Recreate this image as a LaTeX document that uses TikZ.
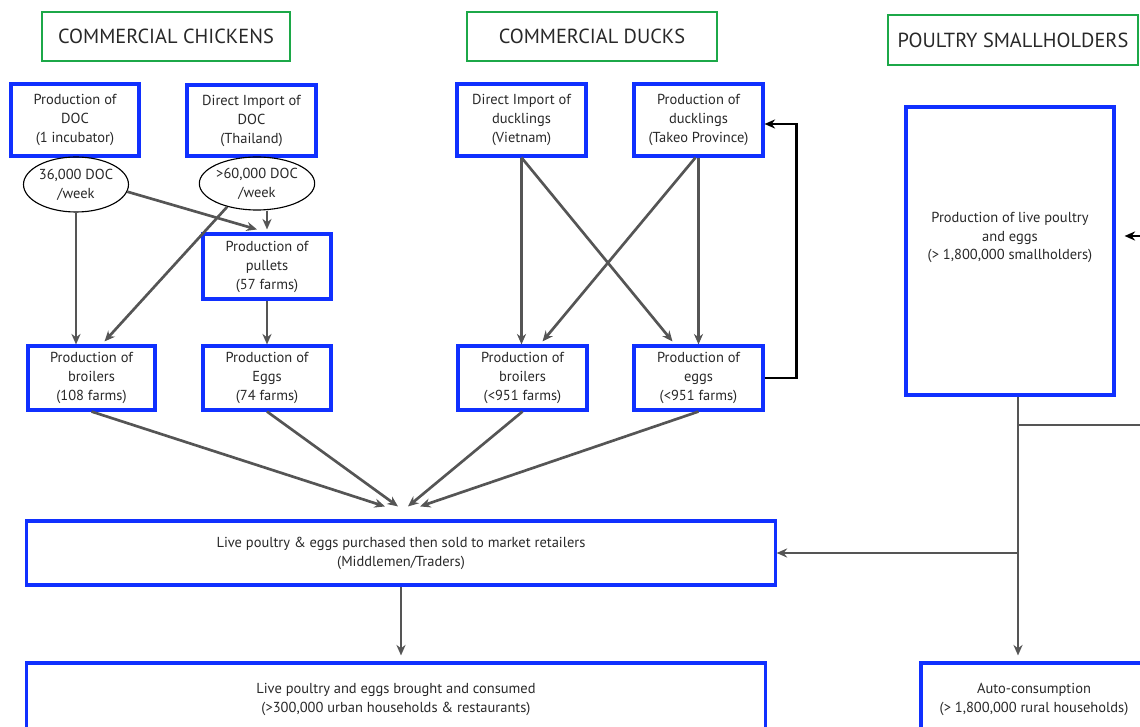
\documentclass[tikz,border=0pt]{standalone}
\usepackage{fontspec}
\setmainfont{PT Sans}
\usetikzlibrary{shapes.geometric,arrows.meta,calc}

\definecolor{boxblue}{RGB}{16,48,255}
\definecolor{hdrgreen}{RGB}{28,168,72}
\definecolor{linegray}{RGB}{85,85,85}
\definecolor{txtgray}{RGB}{40,40,40}

\tikzset{
  hdr/.style={draw=hdrgreen, line width=2pt, text=txtgray, inner sep=0pt,
    font=\fontsize{14.5}{17}\selectfont},
  blk/.style={draw=boxblue, line width=2.2pt, text=txtgray, align=center, inner sep=0pt,
    font=\fontsize{10.3}{13.5}\selectfont},
  ell/.style={ellipse, draw=black, line width=0.8pt, text=txtgray, align=center, inner sep=0pt,
    font=\fontsize{10.3}{13.5}\selectfont},
  flow/.style={draw=linegray, line width=1.9pt, -{Stealth[length=7.5pt,width=6.5pt]}},
  loopback/.style={draw=black, line width=1.9pt, -{Stealth[length=7.5pt,width=6.5pt]}},
}

\begin{document}
\begin{tikzpicture}[x=0.025cm, y=-0.025cm]
  \clip (0,0) rectangle (1140,727);

  % headers
  \node[hdr, minimum width=6.2cm, minimum height=1.225cm] (chk) at (166,36.5) {COMMERCIAL CHICKENS};
  \node[hdr, minimum width=6.25cm, minimum height=1.225cm] (dck) at (592,36.5) {COMMERCIAL DUCKS};
  \node[hdr, minimum width=6.25cm, minimum height=1.25cm] (sml) at (1013,40) {POULTRY SMALLHOLDERS};

  % chickens
  \node[blk, minimum width=3.2cm, minimum height=1.8cm] (docp) at (75,120) {Production of\\DOC\\(1 incubator)};
  \node[blk, minimum width=3.225cm, minimum height=1.775cm] (doci) at (251.5,120.5) {Direct Import of\\DOC\\(Thailand)};
  \node[ell, minimum width=2.425cm, minimum height=1.375cm] (e1) at (76,184.5) {36,000 DOC\\/week};
  \node[ell, minimum width=2.4cm, minimum height=1.325cm] (e2) at (257,183.5) {>60,000 DOC\\/week};
  \node[blk, minimum width=3.2cm, minimum height=1.625cm] (pul) at (267,266.5) {Production of\\pullets\\(57 farms)};
  \node[blk, minimum width=3.175cm, minimum height=1.6cm] (cbr) at (91.5,378) {Production of\\broilers\\(108 farms)};
  \node[blk, minimum width=3.2cm, minimum height=1.6cm] (cegg) at (267,378) {Production of\\Eggs\\(74 farms)};

  % ducks
  \node[blk, minimum width=3.225cm, minimum height=1.8cm] (dimp) at (521.5,120) {Direct Import of\\ducklings\\(Vietnam)};
  \node[blk, minimum width=3.225cm, minimum height=1.8cm] (dlg) at (698.5,120) {Production of\\ducklings\\(Takeo Province)};
  \node[blk, minimum width=3.225cm, minimum height=1.6cm] (dbr) at (522.5,378) {Production of\\broilers\\(<951 farms)};
  \node[blk, minimum width=3.225cm, minimum height=1.6cm] (degg) at (698.5,378) {Production of\\eggs\\(<951 farms)};

  % smallholders
  \node[blk, minimum width=5.2cm, minimum height=7.2cm] (shp) at (1010,251) {Production of live poultry\\and eggs\\(> 1,800,000 smallholders)\\[8pt]\mbox{}};

  % trade and consumption
  \node[blk, minimum width=18.7cm, minimum height=1.6cm] (mid) at (401,553) {Live poultry \& eggs purchased then sold to market retailers\\(Middlemen/Traders)};
  \node[blk, minimum width=18.45cm, minimum height=1.8cm] (con) at (396,699) {Live poultry and eggs brought and consumed\\(>300,000 urban households \& restaurants)};
  \node[blk, minimum width=5.65cm, minimum height=1.8cm] (auto) at (1034,699) {Auto-consumption\\(> 1,800,000 rural households)};

  \coordinate (j1) at (1018,425);
  \coordinate (j2) at (1018,553);
  \coordinate (offr) at (1150,425);
  \coordinate (fb) at (1150,236);

  % chicken flows
  \draw[flow] (e1.south) -- (e1.south |- cbr.north);
  \draw[flow] (e1.-8) -- ($(pul.north)+(-10,-3)$);
  \draw[flow] (e2.218) -- ($(cbr.north)+(13,-3)$);
  \draw[flow] ($(e2.south)+(10,0)$) -- ($(pul.north)+(0,-3)$);
  \draw[flow] (pul.south) -- (cegg.north);

  % duck flows
  \draw[flow] (dimp.south) -- ($(dbr.north)+(-1,0)$);
  \draw[flow] (dimp.south) -- ($(degg.north)+(-26,-3)$);
  \draw[flow] (dlg.south) -- (degg.north);
  \draw[flow] ($(dlg.south)+(-3,0)$) -- ($(dbr.north)+(20,-3)$);
  \draw[loopback] (degg.east) -- ++(32,0) |- ($(dlg.east)+(0,4)$);

  % to traders
  \draw[flow] (cbr.south) -- ($(mid.north)+(-16,-13)$);
  \draw[flow] (cegg.south) -- ($(mid.north)+(-3,-13)$);
  \draw[flow] (dbr.south) -- ($(mid.north)+(7,-13)$);
  \draw[flow] (degg.south) -- ($(mid.north)+(19,-13)$);
  \draw[flow] (mid.south) -- ($(mid.south |- con.north)+(0,-6)$);

  % smallholder flows
  \draw[flow] ($(shp.south)+(8,0)$) -- ($(j1 |- auto.north)+(0,-6)$);
  \draw[draw=linegray, line width=1.9pt] (j1) -- (offr);
  \draw[flow] (j2) -- (mid.east |- j2);
  \draw[loopback] (fb) -- ($(shp.east |- fb)+(9,0)$);
\end{tikzpicture}
\end{document}
